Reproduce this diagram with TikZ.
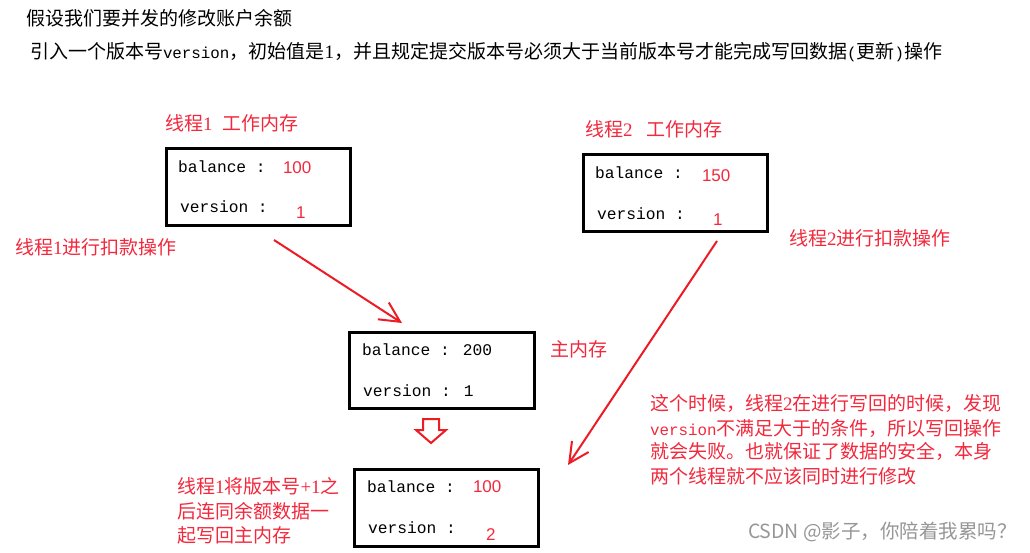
\documentclass[tikz,border=0pt]{standalone}
\usepackage{fontspec}
\setmainfont{Noto Sans CJK SC}
\newfontfamily\mono[Scale=0.8333]{Liberation Mono}
\newfontfamily\dg{Liberation Serif}
\newfontfamily\lsans{Liberation Sans}
\usetikzlibrary{arrows.meta}
\definecolor{myred}{RGB}{236,28,36}
\definecolor{txtred}{RGB}{242,40,60}
\definecolor{wm}{RGB}{150,150,150}
\begin{document}
\begin{tikzpicture}[x=1pt,y=-1pt,
  every node/.style={inner sep=0pt, outer sep=0pt},
  lbl/.style={anchor=west, text=txtred, font=\fontsize{19}{19}\selectfont},
  ttl/.style={anchor=west, text=black, font=\fontsize{19}{19}\selectfont},
  mem/.style={draw=black, line width=3pt, minimum width=184pt, minimum height=77pt, anchor=north west},
  key/.style={anchor=base west, font=\fontsize{19.5}{19.5}\selectfont\mono},
  val/.style={anchor=base west, text=txtred, font=\fontsize{17}{17}\selectfont\lsans},
  redarrow/.style={draw=myred, line width=2pt, -{Straight Barb[length=20pt,width=20pt,line width=2pt]}},
]
\useasboundingbox (0,0) rectangle (1030,552);

% titles
\node[ttl] (t1) at (26,18.5) {假设我们要并发的修改账户余额};
\node[ttl] (t2) at (30,52) {引入一个版本号{\mono version}，初始值是{\dg 1}，并且规定提交版本号必须大于当前版本号才能完成写回数据{\mono (}更新{\mono )}操作};

% thread 1 working memory
\node[lbl] (l1) at (165,123) {线程{\dg 1}\hspace{10pt}工作内存};
\node[mem] (w1) at (166.5,148.5) {};
\node[key] (w1k1) at (178,172) {balance :};
\node[val] (w1v1) at (283,173) {100};
\node[key] (w1k2) at (180,212) {version :};
\node[val] (w1v2) at (296,218) {1};

% thread 2 working memory
\node[lbl] (l2) at (585,129) {线程{\dg 2}\hspace{14pt}工作内存};
\node[mem] (w2) at (583.5,154.5) {};
\node[key] (w2k1) at (595,178) {balance :};
\node[val] (w2v1) at (702,181) {150};
\node[key] (w2k2) at (597,219) {version :};
\node[val] (w2v2) at (713,225) {1};

% operation labels
\node[lbl] (op1) at (15,247) {线程{\dg 1}进行扣款操作};
\node[lbl] (op2) at (789,238) {线程{\dg 2}进行扣款操作};

% main memory
\node[mem, minimum width=185pt, minimum height=76pt] (mm) at (349.5,332.5) {};
\node[key] (mmk1) at (362,355) {balance : 200};
\node[key] (mmk2) at (363,396) {version : 1};
\node[lbl] (mml) at (550,349.5) {主内存};

% written back
\node[mem] (wb) at (354.5,469.5) {};
\node[key] (wbk1) at (367,492) {balance :};
\node[val] (wbv1) at (473,492) {100};
\node[key] (wbk2) at (368,533) {version :};
\node[val] (wbv2) at (486,540) {2};

% bottom-left explanation
\node[lbl] (bl1) at (177,486.5) {线程{\dg 1}将版本号{\dg +1}之};
\node[lbl] (bl2) at (177,511) {后连同余额数据一};
\node[lbl] (bl3) at (177,535) {起写回主内存};

% right explanation
\node[lbl] (r1) at (650,403) {这个时候，线程{\dg 2}在进行写回的时候，发现};
\node[lbl] (r2) at (650,428) {{\mono version}不满足大于的条件，所以写回操作};
\node[lbl] (r3) at (650,451.5) {就会失败。也就保证了数据的安全，本身};
\node[lbl] (r4) at (650,476) {两个线程就不应该同时进行修改};

% watermark
\node[anchor=west, text=wm, font=\fontsize{19.5}{19.5}\selectfont] (wmk) at (748,532) {CSDN @影子，你陪着我累吗？};

% arrows
\coordinate (a1s) at (274,240);
\coordinate (a1e) at (402,323);
\draw[redarrow] (a1s) -- (a1e);
\coordinate (a2s) at (717,241);
\coordinate (a2e) at (568,465);
\draw[redarrow] (a2s) -- (a2e);

% hollow down arrow
\draw[myred, line width=2pt, line join=miter]
  (423,419) -- (439,419) -- (439,430) -- (446,430) -- (431,443) -- (416,430) -- (423,430) -- cycle;
\end{tikzpicture}
\end{document}
